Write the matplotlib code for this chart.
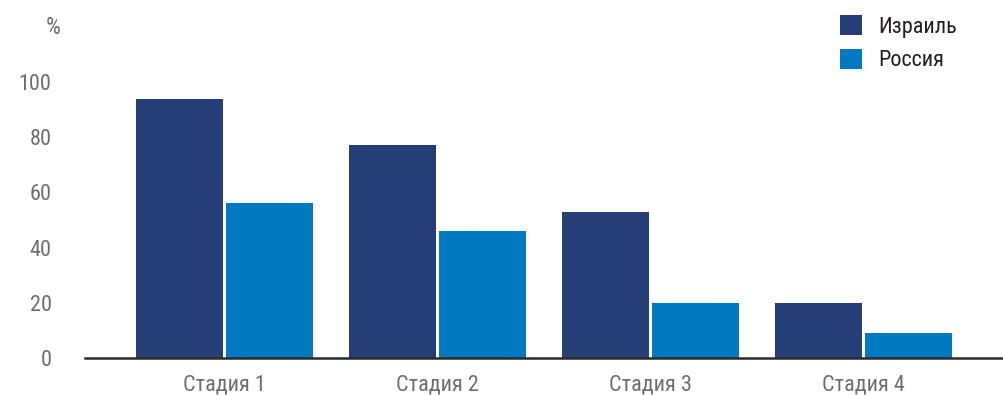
import numpy as np
import matplotlib
matplotlib.use("Agg")
import matplotlib.pyplot as plt
from matplotlib import font_manager

# data
stages = ["Стадия 1", "Стадия 2", "Стадия 3", "Стадия 4"]
israel = [94, 77, 53, 20]
russia = [56, 46, 20, 9]
series_names = ["Израиль", "Россия"]
yticks = [0, 20, 40, 60, 80, 100]

navy = "#253e78"
blue = "#0079c1"
grey = "#6d6e71"

# pick a narrow font if one is installed
names = {f.name for f in font_manager.fontManager.ttflist}
font = "Roboto"
for cand in ["Roboto Condensed", "Liberation Sans Narrow", "Open Sans Condensed"]:
    if cand in names:
        font = cand
        break
plt.rcParams["font.family"] = [font, "DejaVu Sans"]

fig = plt.figure(figsize=(10.04, 3.95), dpi=100)
ax = fig.add_axes([85 / 1004, 37 / 395, 919 / 1004, 303.6 / 395])

x = np.arange(len(stages))
w = 0.408
off = 0.211
ax.bar(x - off, israel, width=w, color=navy, label=series_names[0], zorder=2)
ax.bar(x + off, russia, width=w, color=blue, label=series_names[1], zorder=2)

ax.set_xlim(-0.655, 3.66)
ax.set_ylim(0, 110)
ax.set_xticks(x)
ax.set_xticklabels(stages)
ax.set_yticks(yticks)
ax.tick_params(axis="both", length=0, labelsize=16, labelcolor=grey)
ax.tick_params(axis="y", pad=24)
ax.tick_params(axis="x", pad=12)

for s in ["top", "right", "left"]:
    ax.spines[s].set_visible(False)
ax.spines["bottom"].set_color("#2b2b2b")
ax.spines["bottom"].set_linewidth(1.8)
ax.spines["bottom"].set_zorder(3)

fig.text(61 / 1004, 1 - 27 / 395, "%", ha="right", va="center", fontsize=17, color=grey)

ax.legend(loc="upper left", bbox_to_anchor=(840 / 1004, 1 - 15 / 395),
          bbox_transform=fig.transFigure, frameon=False, fontsize=16,
          borderpad=0, borderaxespad=0,
          handlelength=1.0, handleheight=1.0, handletextpad=0.7,
          labelspacing=0.5, labelcolor="#231f20")

fig.savefig("out.png", dpi=100)
